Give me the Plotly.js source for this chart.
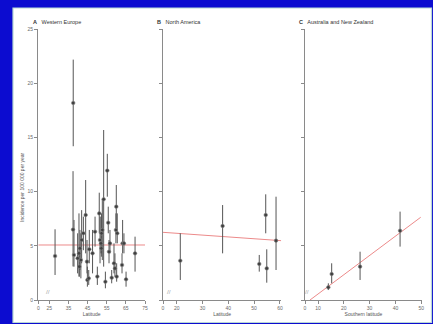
<!DOCTYPE html>
<html><head><meta charset="utf-8">
<script src="https://cdn.plot.ly/plotly-3.0.1.min.js"></script>
<style>html,body{margin:0;padding:0;background:#0c0cd0;}#chart{width:433px;height:324px;}</style>
</head><body><div id="chart"></div>
<script>
// ---- Data ----
// A: Western Europe
const latA = [28.0,37.5,37.4,37.9,40.5,41.0,41.5,40.7,42.8,44.0,44.9,45.6,44.7,45.9,47.6,48.9,50.1,51.1,51.5,52.0,52.3,52.7,52.2,53.4,54.3,55.3,55.8,56.2,56.7,57.6,58.8,59.3,59.8,60.0,60.2,60.5,63.0,63.3,64.0,65.1,69.8,39.8,41.9];
const incA = [4.06,18.2,6.5,4.16,4.31,4.77,3.69,3.08,6.16,7.85,1.85,2.0,3.54,4.68,4.31,6.31,2.16,8.0,5.54,5.23,6.16,6.47,4.77,9.3,1.69,11.95,7.14,4.46,5.23,2.06,3.39,2.92,6.47,8.62,2.16,6.16,3.23,5.23,5.23,1.91,4.31,3.85,5.54];
const loA  = [2.31,14.2,3.1,3.08,2.16,2.77,2.0,2.16,4.6,4.31,1.23,1.39,2.46,3.39,2.46,4.93,1.39,6.16,3.39,4.31,4.31,3.69,4.0,3.08,1.08,9.54,6.16,3.39,4.31,1.54,2.46,2.16,5.23,6.16,1.69,5.23,2.46,4.31,4.31,1.23,2.62,2.46,3.39];
const hiA  = [6.53,22.2,11.9,7.39,8.0,6.47,6.16,4.31,7.7,11.08,3.08,2.77,5.54,6.47,6.47,7.7,3.08,9.91,7.7,7.7,8.0,9.24,6.16,15.7,2.62,13.5,8.62,5.54,6.47,2.77,5.23,4.31,8.0,10.62,3.39,8.0,4.31,7.39,6.16,2.62,5.85,6.16,8.3];
const fitA_x = [19.25,75];
const fitA_y = [5.08,5.08];
// B: North America
const latB = [21.4,37.8,52.0,54.5,54.9,58.5];
const incB = [3.63,6.84,3.33,7.85,2.92,5.48];
const loB  = [1.85,4.31,2.62,6.16,1.6,2.77];
const hiB  = [6.16,8.77,4.16,9.76,4.68,9.54];
const fitB_x = [14.7,60.5];
const fitB_y = [6.25,5.48];
// C: Australia and New Zealand
const latC = [14.0,15.3,26.3,41.8];
const incC = [1.17,2.4,3.08,6.4];
const loC  = [0.92,1.54,1.85,4.93];
const hiC  = [1.54,3.39,4.46,8.16];
const fitC_x = [6.9,49.8];
const fitC_y = [0,7.64];
// Tick labels
const yTicks = [0,5,10,15,20,25];
const yTickText = ['0','5','10','15','20','25'];
const xTicksA = [19.25,25,35,45,55,65,75];
const xTextA  = ['0','25','35','45','55','65','75'];
const xTicksB = [14.7,20,30,40,50,60];
const xTextB  = ['0','20','30','40','50','60'];
const xTicksC = [4.96,10,20,30,40,50];
const xTextC  = ['0','10','20','30','40','50'];
const panelTitles = ['<b>A</b>   Western Europe','<b>B</b>   North America','<b>C</b>   Australia and New Zealand'];
const xTitles = ['Latitude','Latitude','Southern latitude'];
const yTitle = 'Incidence per 100 000 per year';

// ---- Build ----
const W = 433, H = 324;
const px = v => v / W, py = v => 1 - v / H;
function pts(x, y, lo, hi, xa, ya) {
  return {x: x, y: y, xaxis: xa, yaxis: ya, type: 'scatter', mode: 'markers',
    marker: {size: 3.6, color: '#3f3f3f', line: {width: 0.6, color: '#888'}},
    error_y: {type: 'data', symmetric: false,
      array: y.map((v, i) => hi[i] - v), arrayminus: y.map((v, i) => v - lo[i]),
      width: 0, thickness: 1, color: '#555'},
    showlegend: false, hoverinfo: 'skip'};
}
function fit(x, y, xa, ya) {
  return {x: x, y: y, xaxis: xa, yaxis: ya, type: 'scatter', mode: 'lines',
    line: {color: '#ec8a8a', width: 1}, showlegend: false, hoverinfo: 'skip'};
}
const data = [
  fit(fitA_x, fitA_y, 'x', 'y'), pts(latA, incA, loA, hiA, 'x', 'y'),
  fit(fitB_x, fitB_y, 'x2', 'y2'), pts(latB, incB, loB, hiB, 'x2', 'y2'),
  fit(fitC_x, fitC_y, 'x3', 'y3'), pts(latC, incC, loC, hiC, 'x3', 'y3')
];
const tickFont = {family: 'Liberation Sans, Arial, sans-serif', size: 5, color: '#6a6a6a'};
function xax(dom, rng, tv, tt, title, anchor) {
  return {domain: dom, range: rng, anchor: anchor, tickvals: tv, ticktext: tt,
    showgrid: false, zeroline: false, showline: true, linecolor: '#8a8a8a', linewidth: 1.3,
    ticks: 'outside', ticklen: 3, tickwidth: 1, tickcolor: '#8a8a8a', tickfont: tickFont,
    title: {text: title, font: {family: 'Liberation Sans, Arial, sans-serif', size: 5, color: '#555'}, standoff: 2},
    fixedrange: true};
}
function yax(dom, anchor, labels) {
  return {domain: dom, range: [0, 25], anchor: anchor, tickvals: yTicks, ticktext: yTickText,
    showticklabels: labels, showgrid: false, zeroline: false, showline: true,
    linecolor: '#8a8a8a', linewidth: 1.3, ticks: 'outside', ticklen: 3, tickwidth: 1,
    tickcolor: '#8a8a8a', tickfont: tickFont, fixedrange: true};
}
const yd = [py(300), py(29.3)];
const layout = {
  width: W, height: H, margin: {l: 0, r: 0, t: 0, b: 0},
  paper_bgcolor: '#0c0cd0', plot_bgcolor: 'rgba(0,0,0,0)',
  showlegend: false,
  xaxis: xax([px(38.3), px(145)], [19.25, 75], xTicksA, xTextA, xTitles[0], 'y'),
  yaxis: yax(yd, 'x', true),
  xaxis2: xax([px(163), px(281.2)], [14.7, 60.5], xTicksB, xTextB, xTitles[1], 'y2'),
  yaxis2: yax(yd, 'x2', false),
  xaxis3: xax([px(305), px(422)], [4.96, 50.3], xTicksC, xTextC, xTitles[2], 'y3'),
  yaxis3: yax(yd, 'x3', false),
  shapes: [{type: 'rect', xref: 'paper', yref: 'paper', layer: 'below',
    x0: px(13), x1: px(431.5), y0: py(322.5), y1: py(8),
    fillcolor: '#ffffff', line: {color: '#b9d9d3', width: 1.2}}],
  annotations: [
    {text: panelTitles[0], xref: 'paper', yref: 'paper', x: px(31), y: py(22), xanchor: 'left', yanchor: 'middle', showarrow: false, font: {family: 'Liberation Sans, Arial, sans-serif', size: 5.5, color: '#333'}},
    {text: panelTitles[1], xref: 'paper', yref: 'paper', x: px(155), y: py(22), xanchor: 'left', yanchor: 'middle', showarrow: false, font: {family: 'Liberation Sans, Arial, sans-serif', size: 5.5, color: '#333'}},
    {text: panelTitles[2], xref: 'paper', yref: 'paper', x: px(297), y: py(22), xanchor: 'left', yanchor: 'middle', showarrow: false, font: {family: 'Liberation Sans, Arial, sans-serif', size: 5.5, color: '#333'}},
    {text: yTitle, xref: 'paper', yref: 'paper', x: px(22), y: py(187), textangle: -90, xanchor: 'center', yanchor: 'middle', showarrow: false, font: {family: 'Liberation Sans, Arial, sans-serif', size: 5, color: '#555'}},
    {text: '//', xref: 'paper', yref: 'paper', x: px(44), y: py(297), showarrow: false, font: {size: 5, color: '#8a8a8a'}},
    {text: '//', xref: 'paper', yref: 'paper', x: px(169), y: py(297), showarrow: false, font: {size: 5, color: '#8a8a8a'}},
    {text: '//', xref: 'paper', yref: 'paper', x: px(311), y: py(297), showarrow: false, font: {size: 5, color: '#8a8a8a'}}
  ]
};
Plotly.newPlot('chart', data, layout, {staticPlot: true, displayModeBar: false});
</script></body></html>
